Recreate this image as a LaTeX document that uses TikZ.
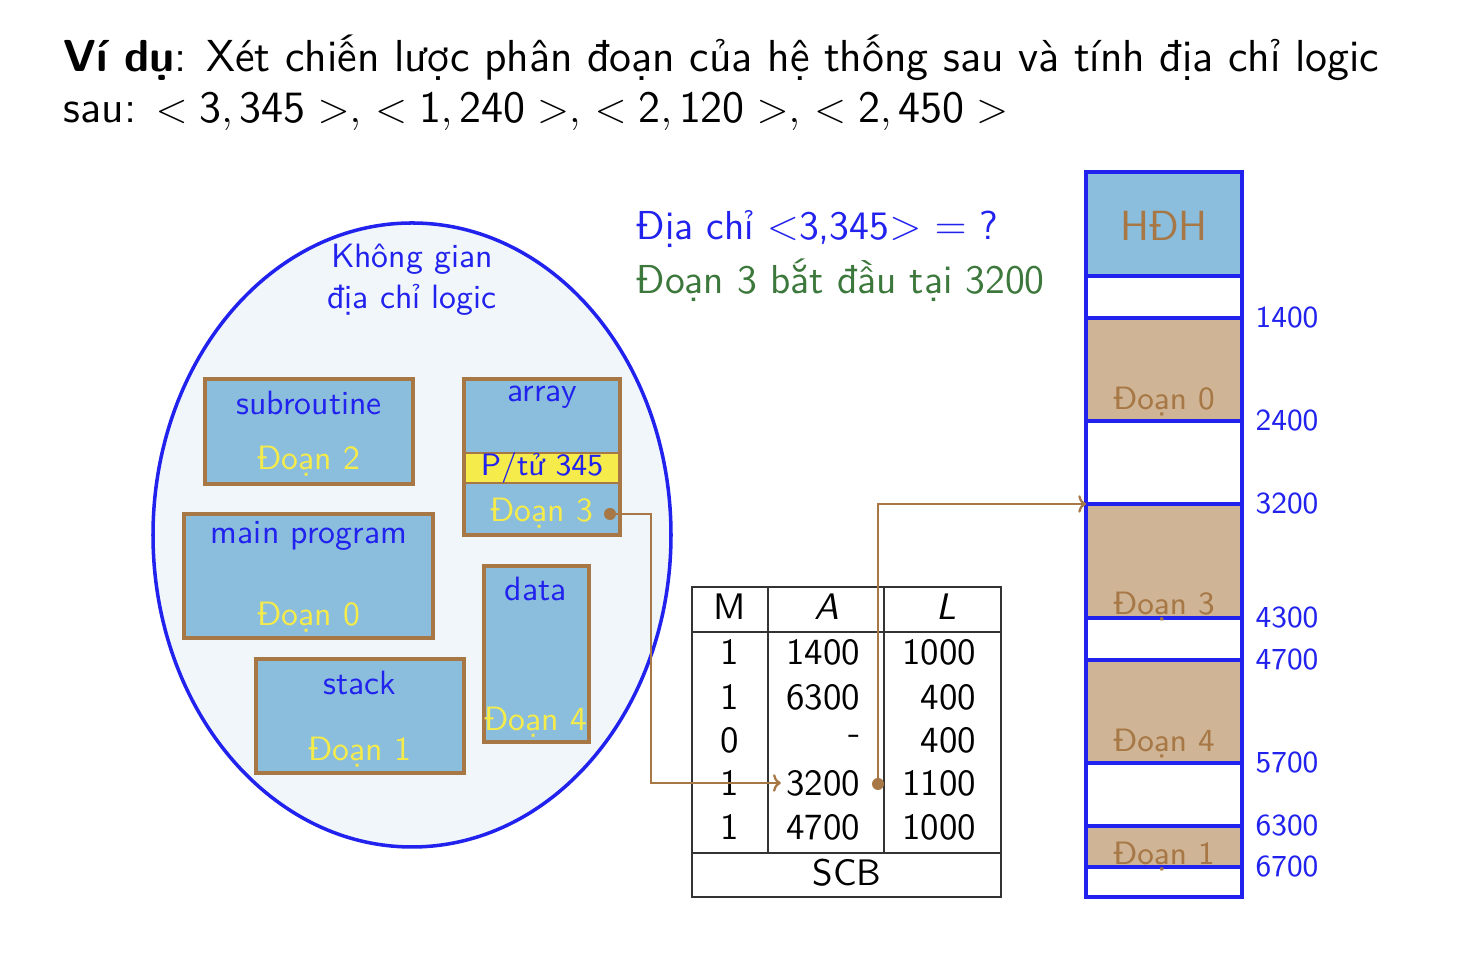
\documentclass[tikz,border=0pt]{standalone}
\usepackage{fontspec}
\usepackage{amsmath}
\usepackage{xcolor}
\usepackage{tikz}
\usetikzlibrary{arrows.meta}

\definecolor{hblue}{RGB}{34,34,238}
\definecolor{segfill}{RGB}{139,190,221}
\definecolor{segbrown}{RGB}{167,120,69}
\definecolor{segyellow}{RGB}{245,235,74}
\definecolor{memtan}{RGB}{207,181,150}
\definecolor{spacefill}{RGB}{240,246,250}
\definecolor{hgreen}{RGB}{60,120,60}

\begin{document}
\begin{tikzpicture}[x=0.1mm, y=-0.1mm, font=\sffamily\fontsize{9.6}{11}\selectfont,
  segbox/.style={draw=segbrown, line width=1pt},
  seglabel/.style={text=hblue, inner sep=0pt},
  segname/.style={text=segyellow, inner sep=0pt},
  memname/.style={text=segbrown, inner sep=0pt, font=\sffamily\fontsize{9.2}{10}\selectfont},
  addr/.style={text=hblue, inner sep=0pt, font=\sffamily\fontsize{8.7}{10}\selectfont},
  cell/.style={inner sep=0.5mm, font=\sffamily\fontsize{10.5}{12}\selectfont},
  tabline/.style={black!80, line width=0.45pt},
  memline/.style={hblue, line width=1pt},
  link/.style={segbrown, line width=0.65pt}]

% Canvas
\useasboundingbox (0,0) rectangle (1464,953);

% Title lines
\node[anchor=base west, inner sep=0pt, font=\sffamily\fontsize{12.75}{15}\selectfont] (title1) at (63,72)
  {\textbf{Ví dụ}: Xét chiến lược phân đoạn của hệ thống sau và tính địa chỉ logic};
\node[anchor=base west, inner sep=0pt, font=\sffamily\fontsize{12.75}{15}\selectfont] (title2) at (63,123)
  {sau: $<\mathsf{3,345}>,\,<\mathsf{1,240}>,\,<\mathsf{2,120}>,\,<\mathsf{2,450}>$};

% Question text
\node[anchor=base west, inner sep=0pt, text=hblue, font=\sffamily\fontsize{11.5}{14}\selectfont] (ask) at (636,240)
  {Địa chỉ $<$3,345$>$ $=$ ?};
\node[anchor=base west, inner sep=0pt, text=hgreen, font=\sffamily\fontsize{11.5}{14}\selectfont] (hint) at (636,294)
  {Đoạn 3 bắt đầu tại 3200};

% Logical address space
\filldraw[fill=spacefill, draw=hblue, line width=1pt] (412,535) ellipse [x radius=25.9mm, y radius=31.2mm];
\node[seglabel, align=center, font=\sffamily\fontsize{9.6}{11.7}\selectfont] (space) at (412,280) {Không gian\\địa chỉ logic};

% subroutine
\filldraw[segbox, fill=segfill] (205,379) rectangle (413,484);
\node[seglabel] (sub) at (309,403) {subroutine};
\node[segname] (sub2) at (309,461) {Đoạn 2};

% array
\fill[segfill] (464,379) rectangle (620,535);
\fill[segyellow] (464,453) rectangle (620,483);
\draw[segbrown, line width=0.3pt] (464,453) -- (620,453) (464,483) -- (620,483);
\draw[segbox] (464,379) rectangle (620,535);
\node[seglabel] (arr) at (542,397) {array};
\node[seglabel, font=\sffamily\fontsize{8.8}{10}\selectfont] (elem) at (542,468) {P/tử 345};
\node[segname] (arr3) at (542,513) {Đoạn 3};

% main program
\filldraw[segbox, fill=segfill] (184,514) rectangle (433,638);
\node[seglabel] (main) at (309,536) {main program};
\node[segname] (main0) at (309,617) {Đoạn 0};

% data
\filldraw[segbox, fill=segfill] (484,566) rectangle (589,742);
\node[seglabel] (data) at (536,589) {data};
\node[segname] (data4) at (536,722) {Đoạn 4};

% stack
\filldraw[segbox, fill=segfill] (256,659) rectangle (464,773);
\node[seglabel] (stack) at (360,683) {stack};
\node[segname] (stack1) at (360,752) {Đoạn 1};

% Segment table
\draw[tabline] (692,587) rectangle (1001,897);
\draw[tabline] (768,587) -- (768,853) (884,587) -- (884,853);
\draw[tabline] (692,632) -- (1001,632) (692,853) -- (1001,853);
\node[cell] (hm) at (730,607) {M};
\node[cell] (ha) at (827,607) {\textit{A}};
\node[cell] (hl) at (946,607) {\textit{L}};
\foreach \i/\y/\m/\a/\l in {1/652/1/1400/1000, 2/697/1/6300/400, 3/740/0/-/400, 4/783/1/3200/1100, 5/827/1/4700/1000}
{
    \node[cell] (m\i) at (730,\y) {\m};
    \node[cell, anchor=east] (a\i) at (866,\y) {\a};
    \node[cell, anchor=east] (l\i) at (982,\y) {\l};
}
\node[cell] (scb) at (847,873) {SCB};

% Physical memory
\fill[segfill] (1086,172) rectangle (1242,276);
\foreach \s/\e in {318/421, 504/618, 660/763, 826/867}
{
    \fill[memtan] (1086,\s) rectangle (1242,\e);
}
\draw[memline] (1086,172) rectangle (1242,897);
\foreach \y in {276, 318, 421, 504, 618, 660, 763, 826, 867}
{
    \draw[memline] (1086,\y) -- (1242,\y);
}
\node[memname, anchor=base, font=\sffamily\fontsize{12}{14}\selectfont] (os) at (1164,241) {HĐH};
\foreach \y/\n in {410/0, 615/3, 752/4, 865/1}
{
    \node[memname, anchor=base] (seg\n) at (1164,\y) {Đoạn \n};
}
\foreach \y/\v in {318/1400, 421/2400, 504/3200, 618/4300, 660/4700, 763/5700, 826/6300, 867/6700}
{
    \node[addr] (addr\v) at (1287,\y) {\v};
}
\coordinate (mem3200) at (1086,504);

% Connectors
\coordinate (dot3) at (610,514);
\coordinate (base3) at (878,784);
\draw[link, -{To[length=2.2pt, width=5pt]}] (dot3) -- ++(41,0) |- (a4.west);
\draw[link, -{To[length=2.2pt, width=5pt]}] (base3) |- (mem3200);
\fill[segbrown] (dot3) circle (0.6mm);
\fill[segbrown] (base3) circle (0.6mm);

\end{tikzpicture}
\end{document}
